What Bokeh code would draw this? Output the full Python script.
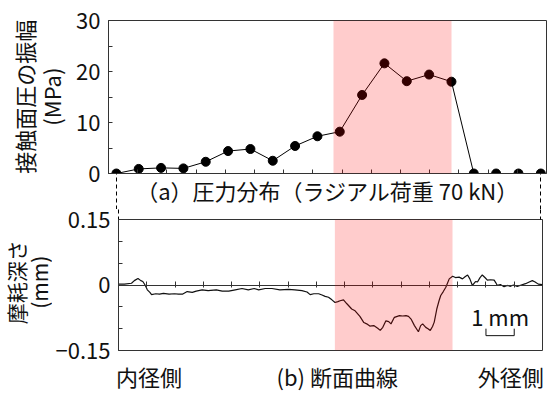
import math
from bokeh.plotting import figure
from bokeh.models import Range1d, FixedTicker, BoxAnnotation, Label, LinearAxis
from bokeh.layouts import column, row
from bokeh.core.properties import value
from bokeh.embed import file_html
from bokeh.resources import INLINE

FONT = "Noto Sans CJK JP"
TXT = "#111111"
FRAME = "#333333"

# ---- data: (a) contact pressure amplitude ----
pos_top = [0.27, 1.035, 1.80, 2.565, 3.33, 4.095, 4.86, 5.625, 6.39, 7.155,
           7.92, 8.685, 9.45, 10.215, 10.98, 11.745, 12.51, 13.275, 14.04, 14.805]
pressure = [0.0, 0.9, 1.1, 1.0, 2.3, 4.4, 4.8, 2.5, 5.4, 7.3,
            8.2, 15.4, 21.6, 18.1, 19.4, 18.0, 0.0, 0.0, 0.0, 0.0]
shade_top = [7.705, 11.747]
edge_top = [pos_top[0], pos_top[-1]]

# ---- data: (b) profile curve (mm) ----
prof_x = [0.00, 0.21, 0.46, 0.56, 0.69, 0.79, 0.86, 0.94, 1.02, 1.11, 1.17, 1.32, 1.45, 1.59,
          1.79, 1.98, 2.12, 2.26, 2.43, 2.61, 2.75, 2.96, 3.17, 3.46, 3.67, 3.90, 4.13, 4.37,
          4.59, 4.80, 4.96, 5.19, 5.43, 5.71, 6.02, 6.24, 6.49, 6.67, 6.78, 6.91, 7.08, 7.20,
          7.31, 7.43, 7.55, 7.66, 7.76, 7.84, 7.96, 8.08, 8.25, 8.37, 8.54, 8.68, 8.78, 8.89,
          9.03, 9.17, 9.26, 9.35, 9.46, 9.56, 9.64, 9.76, 9.94, 10.05, 10.17, 10.26, 10.35,
          10.47, 10.61, 10.69, 10.76, 10.87, 10.95, 11.03, 11.11, 11.17, 11.26, 11.34, 11.40,
          11.49, 11.58, 11.70, 11.82, 11.92, 12.05, 12.17, 12.26, 12.35, 12.43, 12.52, 12.63,
          12.70, 12.79, 12.87, 12.98, 13.05, 13.16, 13.29, 13.35, 13.40, 13.51, 13.64, 13.76,
          13.87, 13.97, 14.11, 14.25, 14.40, 14.53, 14.64, 14.74, 14.85, 14.99]
prof_y = [0.002, 0.002, 0.004, 0.010, 0.015, 0.010, 0.008, 0.000, -0.011, -0.017, -0.022,
          -0.020, -0.021, -0.019, -0.021, -0.020, -0.021, -0.021, -0.015, -0.017, -0.014,
          -0.011, -0.013, -0.011, -0.014, -0.014, -0.011, -0.008, -0.011, -0.008, -0.011,
          -0.008, -0.008, -0.011, -0.010, -0.011, -0.013, -0.016, -0.022, -0.020, -0.020,
          -0.023, -0.026, -0.028, -0.034, -0.040, -0.038, -0.036, -0.034, -0.043, -0.055,
          -0.059, -0.072, -0.086, -0.089, -0.094, -0.093, -0.099, -0.104, -0.097, -0.082,
          -0.084, -0.089, -0.074, -0.070, -0.071, -0.070, -0.072, -0.078, -0.093, -0.107,
          -0.093, -0.089, -0.097, -0.100, -0.104, -0.095, -0.085, -0.055, -0.036, -0.024,
          -0.015, -0.005, 0.014, 0.020, 0.017, 0.018, 0.014, 0.019, 0.023, 0.014, -0.001,
          0.008, 0.007, 0.017, 0.023, 0.016, 0.011, 0.012, 0.011, 0.005, -0.001, 0.001,
          -0.004, -0.001, -0.003, 0.000, -0.003, 0.000, 0.003, 0.007, 0.010, 0.007, 0.002, 0.001]
shade_bot = [7.654, 11.817]
edge_bot = [0.0, 14.94]
scale_bar_x = [13, 14]
scale_bar_y = [-0.100, -0.116]

top_yticks = [0, 10, 20, 30]
top_yminor = [5, 15, 25]
bot_yticks = [-0.15, 0, 0.15]
bot_yminor = [-0.10, -0.05, 0.05, 0.10]
x_ticks = list(range(1, 15))
foot_pos = [1.076, 7.74, 13.88]
foot_text = ["内径側", "(b) 断面曲線", "外径側"]
ylabel_top = ["接触面圧の振幅", "(MPa)"]
ylabel_bot = ["摩耗深さ", "(mm)"]


def base_style(p):
    p.xgrid.visible = False
    p.ygrid.visible = False
    p.outline_line_color = FRAME
    p.outline_line_width = 1
    p.background_fill_color = "white"
    p.border_fill_color = "white"


def style_axis(ax):
    ax.axis_line_color = FRAME
    ax.major_tick_line_color = FRAME
    ax.minor_tick_line_color = FRAME
    ax.major_tick_out = 0
    ax.minor_tick_out = 0
    ax.major_tick_in = 4
    ax.minor_tick_in = 4
    ax.major_label_text_font = FONT
    ax.major_label_text_font_size = "22px"
    ax.major_label_text_color = TXT
    ax.axis_label_text_font = FONT
    ax.axis_label_text_font_size = "22px"
    ax.axis_label_text_font_style = "normal"
    ax.axis_label_text_color = TXT


def dashed_edge_axis(ax, ticks, length):
    ax.ticker = FixedTicker(ticks=ticks, minor_ticks=[])
    ax.major_label_overrides = {t: "" for t in ticks}
    ax.major_label_text_font_size = "0px"
    ax.major_label_standoff = 0
    ax.major_tick_in = 0
    ax.major_tick_out = length
    ax.major_tick_line_color = "black"
    ax.major_tick_line_dash = "4 3"


def label_panel(w, h, xs, y, texts, size):
    p = figure(width=w, height=h, x_range=Range1d(0, w), y_range=Range1d(h, 0),
               x_axis_type=None, y_axis_type=None, output_backend="svg",
               toolbar_location=None, min_border=0)
    p.xgrid.visible = False
    p.ygrid.visible = False
    p.outline_line_color = None
    p.text(x=xs, y=[y] * len(xs), text=texts, angle=math.pi / 2,
           text_align="center", text_baseline="middle",
           text_font=value(FONT), text_font_size=size, text_color=TXT)
    return p


# ---------- top panel ----------
lbl_top = label_panel(66, 209, [23, 50], 104, ylabel_top, "22px")

top = figure(width=490, height=209, x_range=Range1d(0, 15), y_range=Range1d(0, 30),
             output_backend="svg", toolbar_location=None,
             min_border_left=42, min_border_right=10, min_border_top=20, min_border_bottom=36)
base_style(top)
ya = top.yaxis[0]
style_axis(ya)
ya.ticker = FixedTicker(ticks=top_yticks, minor_ticks=top_yminor)
ya.major_label_standoff = 8

xa = top.xaxis[0]
style_axis(xa)
dashed_edge_axis(xa, edge_top, 36)
xa.ticker = FixedTicker(ticks=edge_top, minor_ticks=x_ticks)
xa.axis_label = "（a）圧力分布（ラジアル荷重 70 kN）"
xa.axis_label_standoff = -36

top.line(pos_top, pressure, line_color="black", line_width=1)
top.scatter(pos_top, pressure, size=9, color="black")
top.add_layout(BoxAnnotation(left=shade_top[0], right=shade_top[1], fill_color="red",
                             fill_alpha=0.2, line_alpha=0))

# ---------- bottom panel ----------
lbl_bot = label_panel(52, 186, [15, 38], 89, ylabel_bot, "21px")

bot = figure(width=504, height=186, x_range=Range1d(0, 15), y_range=Range1d(-0.15, 0.15),
             output_backend="svg", toolbar_location=None,
             min_border_left=64, min_border_right=14, min_border_top=10, min_border_bottom=45)
base_style(bot)
yb = bot.yaxis[0]
style_axis(yb)
yb.ticker = FixedTicker(ticks=bot_yticks, minor_ticks=bot_yminor)
yb.major_label_overrides = {-0.15: "−0.15", 0: "0", 0.15: "0.15"}
yb.major_label_standoff = 8

xb = bot.xaxis[0]
style_axis(xb)
xb.ticker = FixedTicker(ticks=x_ticks, minor_ticks=[])
xb.fixed_location = 0
xb.major_tick_out = 2
xb.major_label_text_font_size = "0px"
xb.major_label_overrides = {t: "" for t in x_ticks}
xb.major_label_standoff = 0

edge_ax = LinearAxis()
style_axis(edge_ax)
edge_ax.axis_line_alpha = 0
dashed_edge_axis(edge_ax, edge_bot, 10)
bot.add_layout(edge_ax, "above")

foot = LinearAxis(ticker=FixedTicker(ticks=foot_pos, minor_ticks=[]),
                  major_label_overrides=dict(zip(foot_pos, foot_text)))
style_axis(foot)
foot.axis_line_alpha = 0
foot.major_tick_in = 0
foot.major_tick_out = 0
foot.major_label_standoff = 9
bot.add_layout(foot, "below")

bot.line(prof_x, prof_y, line_color="#111111", line_width=1.2)
bot.line([scale_bar_x[0], scale_bar_x[0], scale_bar_x[1], scale_bar_x[1]],
         [scale_bar_y[0], scale_bar_y[1], scale_bar_y[1], scale_bar_y[0]],
         line_color="#111111", line_width=1)
bot.add_layout(BoxAnnotation(left=shade_bot[0], right=shade_bot[1], fill_color="red",
                             fill_alpha=0.2, line_alpha=0))
bot.add_layout(Label(x=sum(scale_bar_x) / 2, y=-0.071, text="1 mm", text_align="center",
                     text_baseline="middle", text_font=FONT, text_font_size="22px",
                     text_color=TXT))

layout = column(row(lbl_top, top, spacing=0), row(lbl_bot, bot, spacing=0), spacing=0)
open("out.html", "w").write(file_html(layout, INLINE))
